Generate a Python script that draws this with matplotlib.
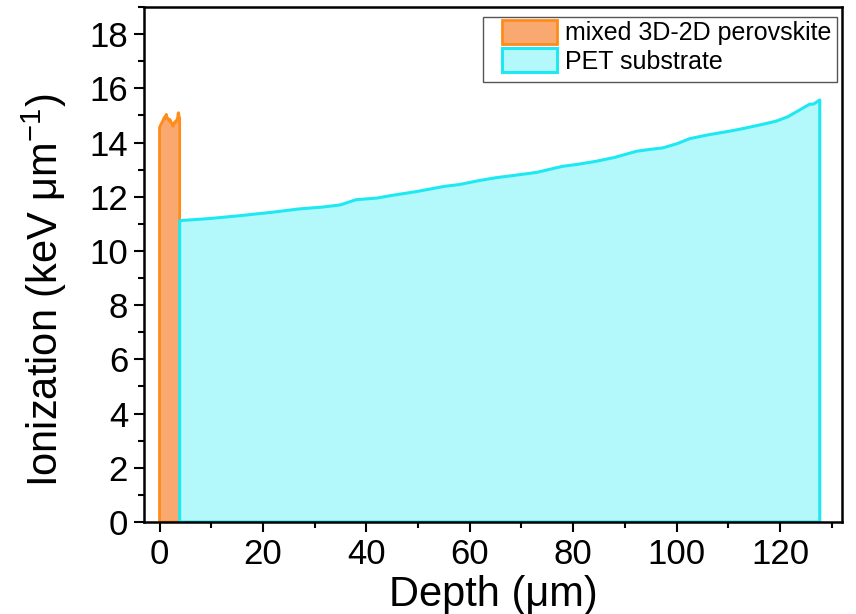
import numpy as np
import matplotlib.pyplot as plt
from matplotlib.patches import Rectangle
from matplotlib.ticker import MultipleLocator

plt.rcParams['font.family'] = ['Liberation Sans', 'DejaVu Sans']
plt.rcParams['mathtext.fontset'] = 'custom'
plt.rcParams['mathtext.rm'] = 'Liberation Sans'

# perovskite layer (depth in um, ionization in keV/um)
perov_depth = [0.0, 0.1, 0.3, 0.5, 0.65, 0.85, 1.0, 1.15, 1.3, 1.45, 1.6, 1.75, 1.9, 2.05,
               2.2, 2.4, 2.6, 2.75, 2.9, 3.05, 3.2, 3.35, 3.5, 3.6, 3.7, 3.8, 3.9]
perov_ion = [14.55, 14.6, 14.68, 14.75, 14.8, 14.9, 14.95, 14.88, 15.04, 14.92, 14.9, 14.82,
             14.8, 14.85, 14.75, 14.7, 14.6, 14.72, 14.7, 14.78, 14.75, 14.85, 14.9, 15.08,
             15.1, 14.95, 14.9]

# PET substrate
pet_depth = [3.9, 4.0, 10, 15.5, 21.9, 27, 31.6, 35, 38, 42, 45, 50, 55, 58, 61.9, 65,
             68.3, 73, 77.9, 81, 84.5, 88, 92.3, 95, 97.3, 100, 102.5, 106, 110.3,
             113, 116.6, 119.3, 121.5, 123.8, 125.7, 126.5, 127.7]
pet_ion = [11.1, 11.12, 11.2, 11.3, 11.43, 11.55, 11.62, 11.7, 11.89, 11.95, 12.05, 12.2,
           12.38, 12.45, 12.6, 12.7, 12.78, 12.9, 13.12, 13.2, 13.31, 13.45, 13.68, 13.75,
           13.8, 13.95, 14.14, 14.28, 14.42, 14.52, 14.67, 14.79, 14.95, 15.2, 15.41,
           15.42, 15.57]

fig = plt.figure(figsize=(8.56, 6.14), dpi=100)
ax = fig.add_axes([144 / 856, 1 - 522 / 614, (842 - 144) / 856, (522 - 7) / 614])

ax.fill([perov_depth[0]] + perov_depth + [perov_depth[-1]],
        [0] + perov_ion + [0],
        facecolor='#F9A870', edgecolor='#FF8C1A', lw=2.0,
        label='mixed 3D-2D perovskite', joinstyle='round')
ax.fill([pet_depth[0]] + pet_depth + [pet_depth[-1]],
        [0] + pet_ion + [0],
        facecolor='#B3F9FC', edgecolor='#1EE8F2', lw=2.2,
        label='PET substrate', joinstyle='round')

ax.set_xlim(-3, 132)
ax.set_ylim(0, 19)
ax.xaxis.set_major_locator(MultipleLocator(20))
ax.xaxis.set_minor_locator(MultipleLocator(10))
ax.yaxis.set_major_locator(MultipleLocator(2))
ax.yaxis.set_minor_locator(MultipleLocator(1))
ax.tick_params(which='major', direction='out', length=7.5, width=1.5, labelsize=25, pad=4)
ax.tick_params(which='minor', direction='out', length=4, width=1.5)
ax.tick_params(axis='x', which='major', pad=4)
for s in ax.spines.values():
    s.set_linewidth(1.8)

ax.set_xlabel('Depth (μm)', fontsize=30, labelpad=3)
ax.set_ylabel('Ionization (keV μm$^{\\mathregular{-1}}$)', fontsize=30)
ax.yaxis.set_label_coords(-0.107, 0.45)

leg = ax.legend(loc='upper left', bbox_to_anchor=(502 / 856, 1 - 20 / 614),
                bbox_transform=fig.transFigure, fontsize=18, frameon=False,
                handlelength=2.2, handleheight=1.08, handletextpad=0.32,
                labelspacing=0.12, borderpad=0, borderaxespad=0)
fig.patches.append(Rectangle((483 / 856, 1 - 82 / 614), (837 - 483) / 856, 65 / 614,
                             transform=fig.transFigure, fill=False,
                             edgecolor='#555555', lw=1.0, zorder=5))

fig.savefig('out.png', dpi=100)
